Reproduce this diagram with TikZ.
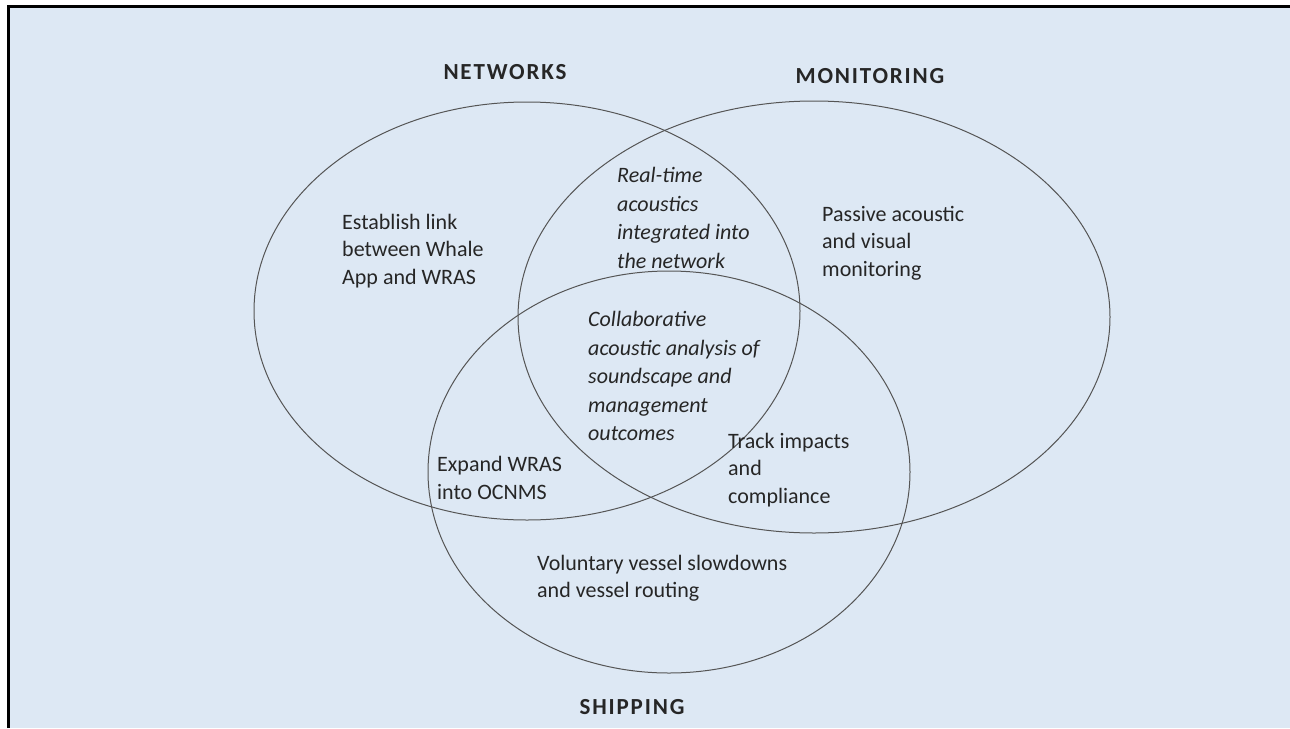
\documentclass[tikz,border=0pt]{standalone}
\usepackage{fontspec}
\setmainfont{Carlito}
\newfontfamily\headfont[LetterSpace=8]{Carlito}
\usepackage{tikz}
\usetikzlibrary{shapes.geometric}
\definecolor{bgblue}{HTML}{DDE8F4}
\definecolor{linegray}{HTML}{555555}
\definecolor{txtgray}{HTML}{262626}

\begin{document}
\begin{tikzpicture}[x=1pt, y=-1pt]
\tikzstyle{set}=[draw=linegray, ellipse, line width=1pt, inner sep=0pt]
\tikzstyle{note}=[text=txtgray, align=left, anchor=west, inner sep=0pt, font=\fontsize{22}{27.5}\selectfont]
\tikzstyle{lens}=[note, font=\fontsize{22}{28.5}\selectfont\itshape]
\tikzstyle{title}=[text=txtgray, inner sep=0pt, font=\headfont\fontsize{23}{26}\selectfont\bfseries]

\useasboundingbox (0,0) rectangle (1290,728);
\fill[bgblue] (8.5,6.5) rectangle (1290,728);
\draw[line width=3pt] (8.5,728) -- (8.5,6.5) -- (1290,6.5);

\node[set, minimum width=546, minimum height=418] (net) at (527,311) {};
\node[set, minimum width=592, minimum height=432] (mon) at (814,317) {};
\node[set, minimum width=482, minimum height=402] (ship) at (669,472) {};

\node[title] (nettitle) at (505,72) {NETWORKS};
\node[title] (montitle) at (870,76) {MONITORING};
\node[title] (shiptitle) at (632,707) {SHIPPING};

\node[note] (link) at (342,251) {Establish link\\between Whale\\App and WRAS};
\node[lens] (realtime) at (617,218) {Real-time\\acoustics\\integrated into\\the network};
\node[note] (passive) at (822,243) {Passive acoustic\\and visual\\monitoring};
\node[lens] (collab) at (588,376) {Collaborative\\acoustic analysis of\\soundscape and\\management\\outcomes};
\node[note] (expand) at (437,478) {Expand WRAS\\into OCNMS};
\node[note] (track) at (728,470) {Track impacts\\and\\compliance};
\node[note] (vessel) at (537,578) {Voluntary vessel slowdowns\\and vessel routing};
\end{tikzpicture}
\end{document}
